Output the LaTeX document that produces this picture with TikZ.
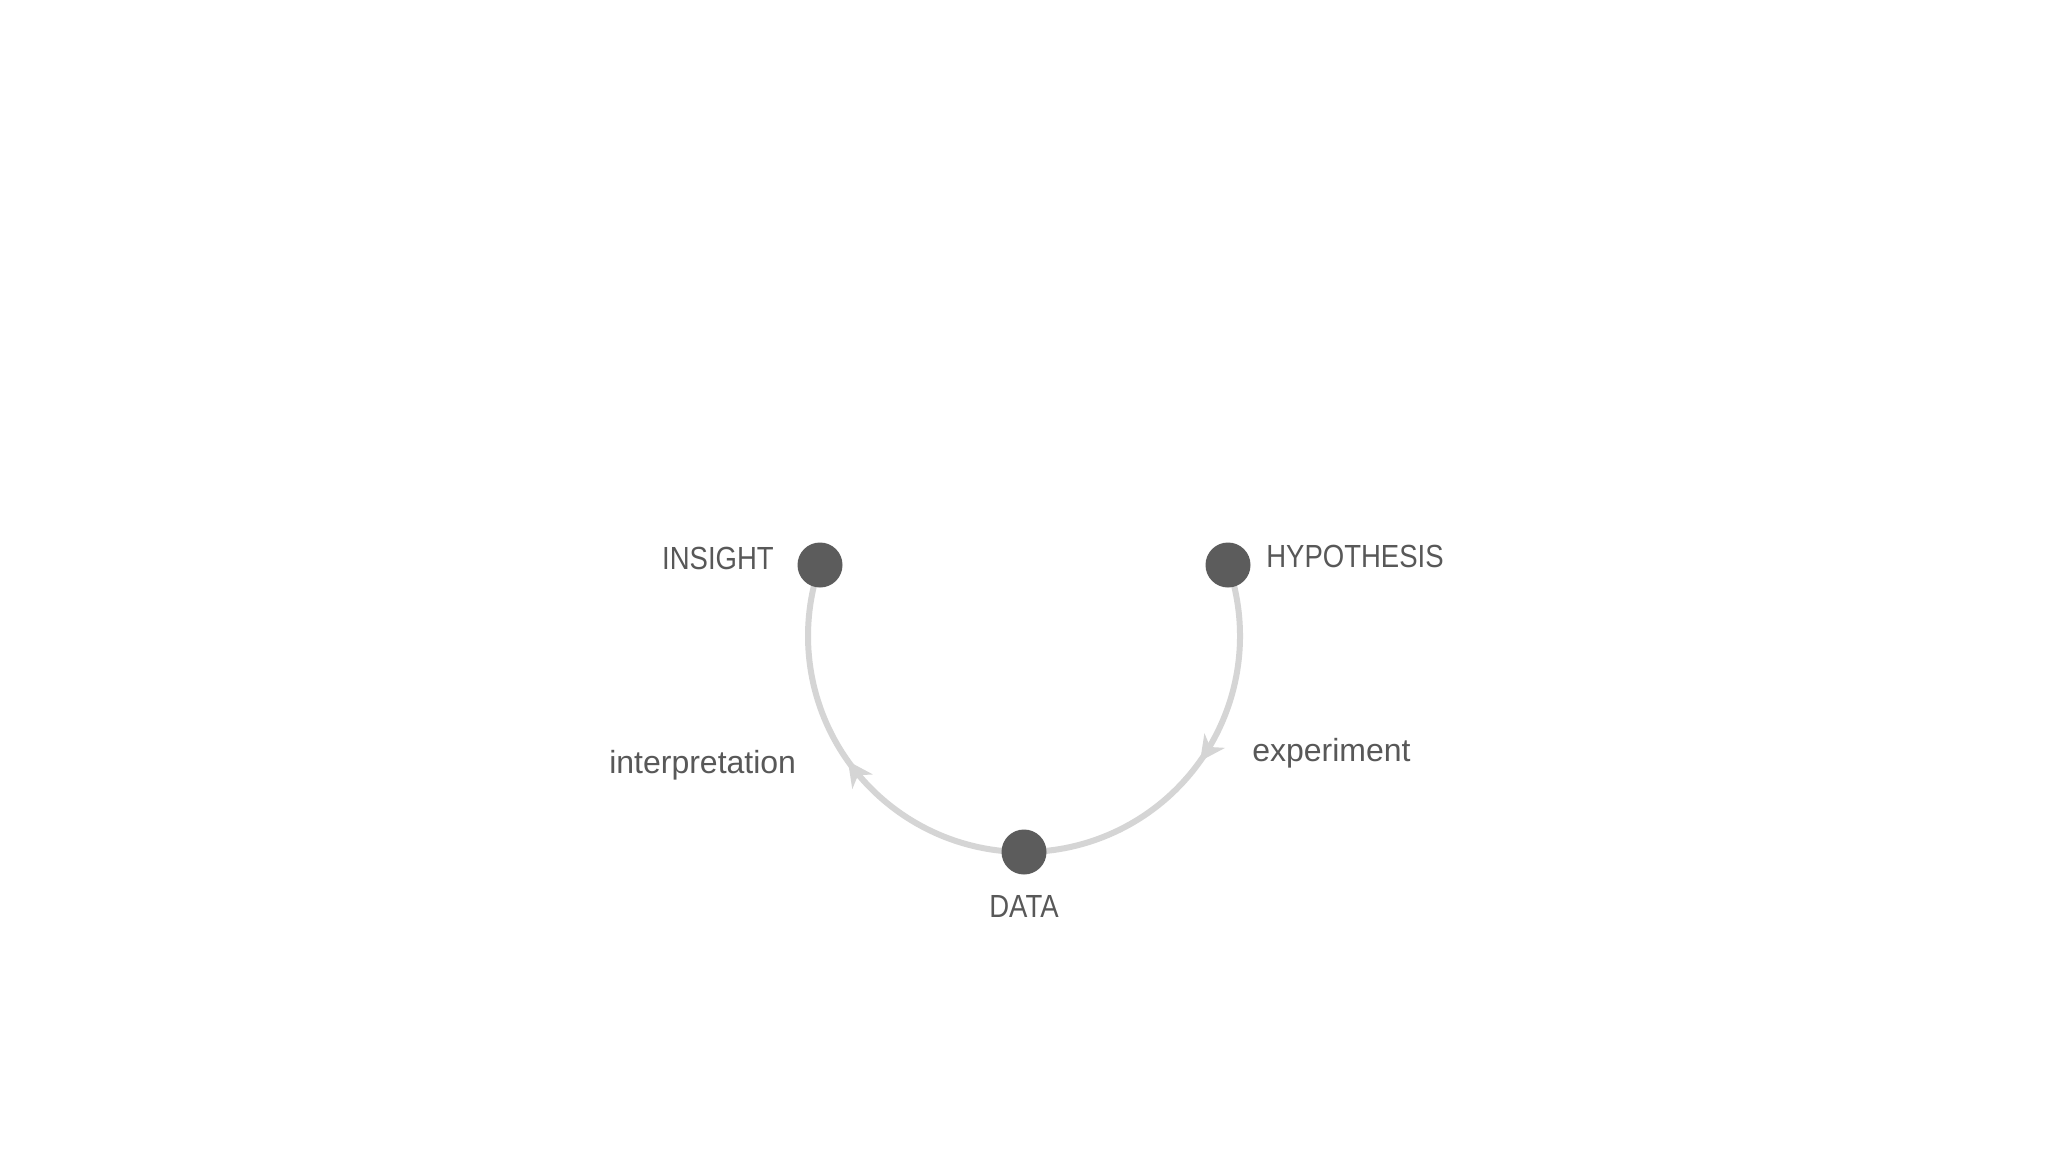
\documentclass[tikz,border=0pt]{standalone}
\usepackage{fontspec}
\setmainfont{Liberation Sans}
\usetikzlibrary{arrows.meta,decorations.markings}
\pgfdeclarelayer{background}
\pgfsetlayers{background,main}
\definecolor{dotgray}{HTML}{5C5C5C}
\definecolor{txtgray}{HTML}{585858}
\definecolor{arcgray}{HTML}{D5D5D5}
\newcommand{\capsw}[1]{\scalebox{0.86}[1]{#1}}
\begin{document}
\begin{tikzpicture}[x=0.75pt,y=-0.75pt,
  dot/.style={circle,fill=dotgray,draw=none,minimum size=33.75pt,inner sep=0pt},
  lbl/.style={text=txtgray,font=\fontsize{24}{28}\selectfont,inner sep=0pt},
  cycarc/.style={draw=arcgray,line width=4.5pt,postaction={decorate},
    decoration={markings,mark=at position 0.5 with {\arrow{Stealth[length=19pt,width=19pt,inset=6pt,line width=0pt]}}}}]
\useasboundingbox (0,0) rectangle (2048,1152);
\coordinate (centre) at (1024,636);
\node[dot] (insight) at (820,565) {};
\node[dot] (hyp) at (1228,565) {};
\node[dot] (data) at (1024,852) {};
\begin{pgfonlayer}{background}
\fill[white] (0,0) rectangle (2048,1152);
\path[cycarc] (data.center) arc[start angle=90, end angle=199.2, radius=216];
\path[cycarc] (hyp.center) arc[start angle=-19.2, end angle=90, radius=216];
\end{pgfonlayer}
\node[lbl,anchor=base east] (insightlbl) at (774,569) {\capsw{INSIGHT}};
\node[lbl,anchor=base west] (hyplbl) at (1266,567) {\capsw{HYPOTHESIS}};
\node[lbl,anchor=base] (datalbl) at (1024,917) {\capsw{DATA}};
\node[lbl,anchor=base west] (interlbl) at (609,773) {interpretation};
\node[lbl,anchor=base west] (explbl) at (1252,761) {experiment};
\end{tikzpicture}
\end{document}
